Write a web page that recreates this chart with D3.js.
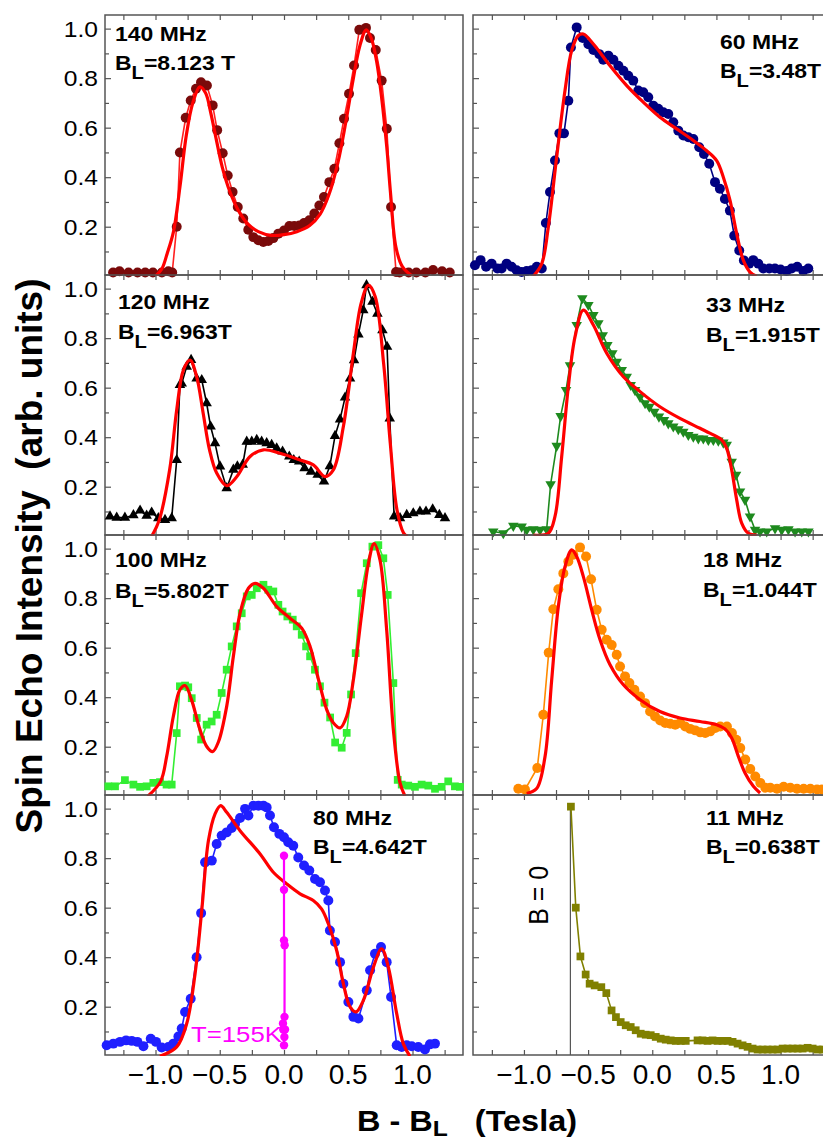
<!DOCTYPE html>
<html>
<head>
<meta charset="utf-8">
<script src="https://cdn.jsdelivr.net/npm/d3@7"></script>
<style>
  body { margin: 0; background: #fff; }
  text { font-family: "Liberation Sans", Arial, sans-serif; }
</style>
</head>
<body>
<div id="chart"></div>
<script>
// ---- data: [B - BL (T), intensity] ----
const d140 = [[-1.33,0.015],[-1.28,0.02],[-1.21,0.015],[-1.14,0.015],[-1.08,0.015],[-1.02,0.015],[-0.95,0.015],[-0.90,0.02],[-0.87,0.015],
  [-0.835,0.2],[-0.81,0.5],[-0.765,0.64],[-0.726,0.71],[-0.685,0.757],[-0.646,0.783],[-0.60,0.77],[-0.555,0.69],[-0.52,0.59],[-0.477,0.497],
  [-0.438,0.407],[-0.40,0.34],[-0.36,0.28],[-0.317,0.233],[-0.278,0.188],[-0.239,0.158],[-0.20,0.145],[-0.161,0.138],[-0.122,0.142],
  [-0.083,0.154],[-0.044,0.172],[0,0.185],[0.042,0.203],[0.08,0.203],[0.12,0.205],[0.156,0.215],[0.197,0.226],[0.236,0.253],[0.275,0.286],
  [0.311,0.32],[0.353,0.38],[0.392,0.434],[0.431,0.537],[0.467,0.636],[0.506,0.737],[0.545,0.851],[0.586,0.995],[0.638,1.003],[0.669,0.962],
  [0.714,0.914],[0.76,0.79],[0.80,0.596],[0.833,0.28],[0.872,0.017],[0.90,0.015],[0.97,0.015],[1.03,0.015],[1.10,0.015],[1.16,0.025],[1.23,0.02],[1.29,0.015]];
const fit140 = [[-1.0,0.0],[-0.95,0.03],[-0.91,0.09],[-0.86,0.18],[-0.81,0.36],[-0.76,0.57],[-0.71,0.70],[-0.655,0.765],[-0.61,0.74],[-0.57,0.66],
  [-0.53,0.56],[-0.48,0.44],[-0.42,0.34],[-0.36,0.27],[-0.28,0.21],[-0.2,0.18],[-0.1,0.165],[0,0.168],[0.1,0.18],[0.2,0.205],[0.28,0.25],
  [0.35,0.33],[0.42,0.46],[0.48,0.62],[0.54,0.8],[0.59,0.93],[0.64,0.995],[0.68,0.96],[0.72,0.87],[0.76,0.72],[0.80,0.52],[0.83,0.33],
  [0.87,0.12],[0.92,0.04],[1.0,0.0]];

const d120 = [[-1.354,0.08],[-1.302,0.075],[-1.238,0.075],[-1.172,0.085],[-1.12,0.104],[-1.069,0.083],[-1.03,0.096],[-0.978,0.073],[-0.926,0.066],
  [-0.874,0.073],[-0.835,0.308],[-0.81,0.611],[-0.796,0.617],[-0.757,0.685],[-0.723,0.712],[-0.68,0.637],[-0.64,0.631],[-0.602,0.537],
  [-0.571,0.443],[-0.537,0.376],[-0.498,0.282],[-0.446,0.194],[-0.394,0.269],[-0.363,0.282],[-0.321,0.289],[-0.29,0.382],[-0.251,0.382],
  [-0.212,0.389],[-0.174,0.382],[-0.135,0.376],[-0.096,0.369],[-0.057,0.355],[-0.011,0.342],[0.041,0.322],[0.076,0.308],[0.118,0.302],
  [0.16,0.275],[0.21,0.261],[0.262,0.248],[0.311,0.221],[0.357,0.283],[0.397,0.405],[0.436,0.472],[0.475,0.56],[0.514,0.637],[0.545,0.711],
  [0.579,0.815],[0.617,0.913],[0.642,1.014],[0.689,0.947],[0.727,0.899],[0.766,0.832],[0.802,0.765],[0.823,0.476],[0.857,0.08],[0.903,0.073],
  [0.955,0.086],[1.006,0.093],[1.058,0.1],[1.105,0.1],[1.157,0.109],[1.209,0.086],[1.253,0.073]];
const fit120 = [[-1.03,0.0],[-0.97,0.067],[-0.89,0.268],[-0.835,0.51],[-0.783,0.671],[-0.731,0.711],[-0.68,0.645],[-0.63,0.50],[-0.58,0.35],
  [-0.524,0.255],[-0.446,0.204],[-0.368,0.24],[-0.264,0.322],[-0.16,0.349],[-0.031,0.335],[0.125,0.308],[0.228,0.288],[0.319,0.241],
  [0.384,0.268],[0.462,0.443],[0.54,0.739],[0.60,0.94],[0.657,1.014],[0.71,0.967],[0.775,0.699],[0.827,0.376],[0.879,0.107],[0.931,0.013],[0.96,0.0]];

const d100 = [[-1.367,0.04],[-1.315,0.04],[-1.238,0.065],[-1.172,0.047],[-1.12,0.038],[-1.069,0.04],[-1.017,0.054],[-0.965,0.057],[-0.914,0.047],
  [-0.874,0.047],[-0.835,0.255],[-0.81,0.444],[-0.77,0.447],[-0.745,0.44],[-0.718,0.396],[-0.679,0.316],[-0.645,0.229],[-0.602,0.289],
  [-0.563,0.302],[-0.524,0.329],[-0.485,0.417],[-0.446,0.511],[-0.407,0.605],[-0.368,0.686],[-0.329,0.739],[-0.29,0.807],[-0.251,0.813],
  [-0.212,0.84],[-0.16,0.854],[-0.122,0.834],[-0.083,0.827],[-0.044,0.773],[-0.011,0.746],[0.026,0.726],[0.068,0.713],[0.099,0.686],
  [0.138,0.652],[0.172,0.605],[0.203,0.565],[0.241,0.511],[0.28,0.444],[0.315,0.378],[0.359,0.318],[0.398,0.217],[0.449,0.196],[0.488,0.256],
  [0.522,0.411],[0.558,0.578],[0.6,0.82],[0.644,0.941],[0.688,1.008],[0.734,1.014],[0.773,0.961],[0.807,0.813],[0.851,0.457],[0.885,0.066],
  [0.916,0.047],[0.967,0.043],[1.019,0.038],[1.071,0.047],[1.123,0.043],[1.175,0.03],[1.227,0.038],[1.278,0.06],[1.33,0.04],[1.369,0.038]];
const fit100 = [[-1.06,0.0],[-0.96,0.06],[-0.913,0.161],[-0.861,0.323],[-0.81,0.43],[-0.77,0.447],[-0.72,0.39],[-0.654,0.269],[-0.60,0.2],
  [-0.555,0.18],[-0.51,0.22],[-0.446,0.363],[-0.394,0.565],[-0.342,0.739],[-0.277,0.84],[-0.225,0.86],[-0.16,0.84],[-0.057,0.766],
  [0.047,0.719],[0.138,0.679],[0.203,0.605],[0.269,0.47],[0.333,0.349],[0.385,0.296],[0.437,0.276],[0.488,0.323],[0.54,0.47],[0.605,0.739],
  [0.657,0.94],[0.701,1.02],[0.747,0.954],[0.799,0.672],[0.851,0.269],[0.903,0.054],[0.942,0.0]];

const d80 = [[-1.38,0.044],[-1.328,0.051],[-1.276,0.058],[-1.229,0.064],[-1.185,0.062],[-1.141,0.058],[-1.094,0.04],[-1.037,0.071],[-0.996,0.058],
  [-0.952,0.035],[-0.9,0.037],[-0.861,0.051],[-0.822,0.08],[-0.796,0.112],[-0.77,0.179],[-0.726,0.232],[-0.68,0.4],[-0.645,0.578],[-0.614,0.783],
  [-0.562,0.79],[-0.524,0.857],[-0.485,0.891],[-0.446,0.904],[-0.407,0.922],[-0.381,0.938],[-0.342,0.962],[-0.303,0.999],[-0.277,0.972],
  [-0.238,1.012],[-0.199,1.012],[-0.16,1.012],[-0.135,1.005],[-0.109,0.972],[-0.078,0.925],[-0.036,0.898],[0.0,0.884],[0.033,0.864],
  [0.072,0.85],[0.111,0.803],[0.156,0.77],[0.197,0.75],[0.241,0.716],[0.28,0.703],[0.319,0.669],[0.345,0.629],[0.357,0.508],[0.397,0.461],
  [0.436,0.38],[0.462,0.293],[0.501,0.219],[0.54,0.159],[0.579,0.152],[0.644,0.266],[0.67,0.347],[0.708,0.414],[0.755,0.441],[0.799,0.38],
  [0.833,0.239],[0.877,0.044],[0.916,0.037],[0.955,0.044],[0.994,0.04],[1.045,0.037],[1.097,0.027],[1.136,0.048],[1.175,0.051]];
const fit80 = [[-0.965,0.0],[-0.835,0.038],[-0.757,0.132],[-0.692,0.333],[-0.64,0.589],[-0.588,0.871],[-0.537,0.978],[-0.493,1.012],[-0.446,0.985],
  [-0.342,0.911],[-0.186,0.817],[-0.083,0.743],[0.021,0.696],[0.125,0.656],[0.228,0.629],[0.292,0.595],[0.345,0.535],[0.41,0.427],
  [0.462,0.293],[0.514,0.199],[0.56,0.179],[0.618,0.226],[0.696,0.36],[0.76,0.434],[0.812,0.36],[0.877,0.172],[0.929,0.05],[0.98,0.0]];
const d155 = [[0,0.81],[0,0.672],[0,0.468],[0.005,0.448],[0.004,0.159],[-0.008,0.132],[0.008,0.108],[-0.006,0.108],[0.003,0.078],[0,0.044]];

const d60 = [[-1.382,0.044],[-1.338,0.065],[-1.295,0.038],[-1.252,0.051],[-1.207,0.031],[-1.174,0.031],[-1.135,0.051],[-1.096,0.038],
  [-1.057,0.024],[-1.018,0.017],[-0.979,0.021],[-0.94,0.024],[-0.9,0.038],[-0.861,0.031],[-0.829,0.215],[-0.797,0.34],[-0.758,0.467],
  [-0.724,0.577],[-0.688,0.577],[-0.654,0.709],[-0.634,0.924],[-0.589,1.005],[-0.542,0.962],[-0.498,0.937],[-0.459,0.914],[-0.413,0.897],
  [-0.382,0.874],[-0.342,0.891],[-0.303,0.874],[-0.264,0.85],[-0.225,0.83],[-0.187,0.81],[-0.148,0.79],[-0.109,0.75],[-0.07,0.743],
  [-0.031,0.723],[0.008,0.689],[0.047,0.676],[0.086,0.662],[0.125,0.655],[0.164,0.622],[0.203,0.588],[0.242,0.568],[0.281,0.561],
  [0.32,0.554],[0.366,0.521],[0.403,0.494],[0.444,0.454],[0.489,0.38],[0.527,0.353],[0.566,0.312],[0.605,0.265],[0.639,0.164],[0.678,0.104],
  [0.714,0.064],[0.756,0.051],[0.787,0.065],[0.826,0.051],[0.865,0.031],[0.912,0.031],[0.956,0.031],[1.0,0.027],[1.047,0.021],[1.086,0.031],
  [1.13,0.038],[1.177,0.021],[1.216,0.031]];
const fit60 = [[-0.927,0.0],[-0.861,0.051],[-0.81,0.199],[-0.745,0.481],[-0.68,0.75],[-0.628,0.911],[-0.576,0.972],[-0.537,0.978],
  [-0.459,0.938],[-0.329,0.85],[-0.199,0.77],[-0.07,0.703],[0.06,0.642],[0.19,0.595],[0.32,0.548],[0.424,0.507],[0.502,0.467],[0.554,0.4],
  [0.606,0.306],[0.658,0.172],[0.71,0.064],[0.762,0.017],[0.813,0.0]];

const d33 = [[-1.239,0.019],[-1.161,0.012],[-1.083,0.042],[-1.018,0.039],[-0.979,0.026],[-0.927,0.028],[-0.875,0.026],[-0.823,0.028],
  [-0.792,0.21],[-0.745,0.365],[-0.714,0.485],[-0.672,0.59],[-0.641,0.69],[-0.589,0.853],[-0.545,0.961],[-0.498,0.934],[-0.459,0.893],
  [-0.42,0.86],[-0.386,0.812],[-0.35,0.772],[-0.311,0.739],[-0.277,0.705],[-0.238,0.671],[-0.199,0.644],[-0.168,0.611],[-0.134,0.59],
  [-0.095,0.563],[-0.056,0.537],[-0.023,0.523],[0.016,0.503],[0.052,0.483],[0.091,0.469],[0.125,0.456],[0.164,0.443],[0.203,0.432],
  [0.242,0.422],[0.281,0.409],[0.32,0.402],[0.359,0.395],[0.398,0.395],[0.437,0.389],[0.476,0.389],[0.515,0.386],[0.554,0.378],[0.58,0.369],
  [0.619,0.301],[0.653,0.248],[0.684,0.181],[0.723,0.147],[0.762,0.08],[0.801,0.026],[0.84,0.019],[0.892,0.019],[0.957,0.032],[1.009,0.026],
  [1.061,0.028],[1.113,0.019],[1.165,0.019],[1.217,0.019]];
const fit33 = [[-0.927,0.005],[-0.81,0.012],[-0.758,0.08],[-0.706,0.321],[-0.654,0.604],[-0.602,0.805],[-0.537,0.913],[-0.459,0.853],
  [-0.355,0.739],[-0.225,0.644],[-0.095,0.584],[0.06,0.523],[0.216,0.476],[0.372,0.436],[0.476,0.409],[0.541,0.389],[0.58,0.355],
  [0.619,0.268],[0.658,0.147],[0.697,0.053],[0.749,0.012],[0.814,0.005]];

const d18 = [[-1.044,0.03],[-0.992,0.027],[-0.896,0.114],[-0.849,0.329],[-0.807,0.58],[-0.771,0.755],[-0.732,0.836],[-0.693,0.9],[-0.654,0.948],
  [-0.615,0.975],[-0.563,1.005],[-0.516,0.968],[-0.477,0.876],[-0.433,0.753],[-0.394,0.672],[-0.355,0.632],[-0.316,0.611],[-0.277,0.571],
  [-0.251,0.524],[-0.212,0.484],[-0.178,0.457],[-0.139,0.43],[-0.095,0.403],[-0.056,0.376],[-0.017,0.342],[0.022,0.322],[0.062,0.306],
  [0.101,0.296],[0.14,0.293],[0.179,0.289],[0.218,0.296],[0.257,0.282],[0.296,0.272],[0.335,0.266],[0.374,0.258],[0.413,0.255],[0.452,0.262],
  [0.491,0.276],[0.53,0.282],[0.582,0.282],[0.621,0.255],[0.655,0.228],[0.686,0.195],[0.725,0.148],[0.764,0.11],[0.803,0.08],[0.842,0.054],
  [0.881,0.034],[0.92,0.034],[0.972,0.03],[1.024,0.038],[1.076,0.034],[1.128,0.03],[1.18,0.03],[1.232,0.03],[1.284,0.027],[1.323,0.027]];
const fit18 = [[-0.979,0.011],[-0.901,0.031],[-0.836,0.159],[-0.784,0.468],[-0.732,0.766],[-0.68,0.927],[-0.628,0.995],[-0.589,0.968],
  [-0.537,0.887],[-0.472,0.753],[-0.407,0.632],[-0.329,0.531],[-0.225,0.45],[-0.095,0.39],[0.06,0.342],[0.216,0.316],[0.372,0.302],
  [0.502,0.289],[0.567,0.272],[0.619,0.235],[0.671,0.161],[0.723,0.094],[0.788,0.04],[0.84,0.013]];

const d11 = [[-0.634,1.008],[-0.596,0.6],[-0.56,0.403],[-0.519,0.33],[-0.488,0.293],[-0.449,0.286],[-0.397,0.279],[-0.358,0.255],
  [-0.317,0.185],[-0.283,0.158],[-0.246,0.138],[-0.207,0.125],[-0.168,0.118],[-0.129,0.105],[-0.09,0.091],[-0.051,0.087],[-0.012,0.085],
  [0.027,0.078],[0.066,0.071],[0.105,0.067],[0.144,0.064],[0.183,0.062],[0.222,0.062],[0.261,0.062],[0.353,0.064],[0.392,0.064],
  [0.431,0.062],[0.47,0.064],[0.509,0.062],[0.548,0.062],[0.587,0.062],[0.626,0.058],[0.665,0.051],[0.704,0.044],[0.743,0.038],
  [0.782,0.031],[0.821,0.027],[0.86,0.027],[0.899,0.027],[0.938,0.027],[0.977,0.027],[1.016,0.031],[1.055,0.031],[1.094,0.031],
  [1.133,0.031],[1.172,0.031],[1.211,0.034],[1.25,0.031],[1.289,0.027],[1.328,0.027]];
const bZero = -0.638;

const freqLabels = ["140 MHz", "120 MHz", "100 MHz", "80 MHz", "60 MHz", "33 MHz", "18 MHz", "11 MHz"];
const fieldLabels = ["=8.123 T", "=6.963T", "=5.802T", "=4.642T", "=3.48T", "=1.915T", "=1.044T", "=0.638T"];
const xTicks = [-1.0, -0.5, 0.0, 0.5, 1.0];
const yTicks = [0.2, 0.4, 0.6, 0.8, 1.0];

// ---- layout ----
const width = 823, height = 1142;
const colLeft = [105, 473], panelW = 358;
const rowTop = [15, 275, 535, 795], panelH = 260;
const sx = 1.12; // the figure is slightly stretched horizontally

const panels = [
  { col: 0, row: 0, data: d140, fit: fit140, mark: "#7a0a0a", line: "#ff2020", sym: "circle", lab: [10, 26, 55] },
  { col: 0, row: 1, data: d120, fit: fit120, mark: "#000", line: "#000", sym: "tri", lab: [13, 34, 64] },
  { col: 0, row: 2, data: d100, fit: fit100, mark: "#33ee33", line: "#33ee33", sym: "square", lab: [10, 32, 63] },
  { col: 0, row: 3, data: d80, fit: fit80, mark: "#1f1fff", line: "#1f1fff", sym: "circle", lab: [208, 30, 59] },
  { col: 1, row: 0, data: d60, fit: fit60, mark: "#000080", line: "#000080", sym: "circle", lab: [247, 34, 63] },
  { col: 1, row: 1, data: d33, fit: fit33, mark: "#1e8a1e", line: "#1e8a1e", sym: "tridown", lab: [233, 37, 67] },
  { col: 1, row: 2, data: d18, fit: fit18, mark: "#ff8a00", line: "#ff8a00", sym: "circle", lab: [230, 32, 62] },
  { col: 1, row: 3, data: d11, fit: null, mark: "#808000", line: "#808000", sym: "square", lab: [233, 30, 59] }
];

const svg = d3.select("#chart").append("svg").attr("width", width).attr("height", height);

function stretchText(parent, x, y, str, size, weight, anchor, fill) {
  return parent.append("g")
    .attr("transform", `translate(${x},${y}) scale(${sx},1)`)
    .append("text")
    .attr("text-anchor", anchor || "start")
    .attr("font-size", size)
    .attr("font-weight", weight || "normal")
    .attr("fill", fill || "#000")
    .text(str);
}

const symbols = {
  circle: d3.symbol().type(d3.symbolCircle).size(78)(),
  tri: d3.symbol().type(d3.symbolTriangle).size(48)(),
  tridown: d3.symbol().type(d3.symbolTriangle).size(48)(),
  square: d3.symbol().type(d3.symbolSquare).size(60)()
};

panels.forEach((p, i) => {
  const left = colLeft[p.col], top = rowTop[p.row];
  const x = d3.scaleLinear()
    .domain(p.col === 0 ? [-1.393, 1.393] : [-1.397, 1.393])
    .range([left, left + panelW]);
  const y = d3.scaleLinear().domain([0.005, 1.055]).range([top + panelH, top]);

  const g = svg.append("g");
  const clipId = "clip" + i;
  g.append("clipPath").attr("id", clipId)
    .append("rect").attr("x", left).attr("y", top).attr("width", panelW).attr("height", panelH + 1);

  // frame
  g.append("rect").attr("x", left).attr("y", top).attr("width", panelW).attr("height", panelH)
    .attr("fill", "none").attr("stroke", "#555").attr("stroke-width", 1.5);

  // inward ticks
  const axisStyle = (sel) => { sel.select(".domain").remove(); sel.selectAll("line").attr("stroke", "#555").attr("stroke-width", 1.2); };
  g.append("g").attr("transform", `translate(${left},0)`)
    .call(d3.axisLeft(y).tickValues(yTicks).tickSize(-6).tickFormat("")).call(axisStyle);
  g.append("g").attr("transform", `translate(${left},0)`)
    .call(d3.axisLeft(y).tickValues([0.1, 0.3, 0.5, 0.7, 0.9]).tickSize(-4).tickFormat("")).call(axisStyle);
  const xAll = d3.range(-1.25, 1.3, 0.25);
  g.append("g").attr("transform", `translate(0,${top + panelH})`)
    .call(d3.axisBottom(x).tickValues(xAll).tickSize(-5).tickFormat("")).call(axisStyle);
  g.append("g").attr("transform", `translate(0,${top})`)
    .call(d3.axisTop(x).tickValues(xAll).tickSize(-5).tickFormat("")).call(axisStyle);

  // y tick labels on the left column
  if (p.col === 0) {
    yTicks.forEach((t) => {
      stretchText(svg, 98, y(t) + 8, d3.format(".1f")(t), 22, "normal", "end");
    });
  }
  // x tick labels on the bottom row
  if (p.row === 3) {
    xTicks.forEach((t) => {
      svg.append("text").attr("x", x(t)).attr("y", top + panelH + 29)
        .attr("text-anchor", "middle").attr("font-size", 28)
        .text(d3.format(".1f")(t).replace("-", "-"));
    });
  }

  // B = 0 marker in the 11 MHz panel
  if (p.col === 1 && p.row === 3) {
    g.append("line").attr("x1", x(bZero)).attr("x2", x(bZero))
      .attr("y1", y(1.0)).attr("y2", top + panelH)
      .attr("stroke", "#555").attr("stroke-width", 1.2);
    svg.append("g").attr("transform", `translate(${x(bZero) - 22},${y(0.65)}) rotate(-90) scale(1,${sx})`)
      .append("text").attr("text-anchor", "middle").attr("font-size", 25).text("B = 0");
  }

  const line = d3.line().x((d) => x(d[0])).y((d) => y(d[1]));

  // data line and markers
  g.append("path").datum(p.data).attr("d", line)
    .attr("fill", "none").attr("stroke", p.line).attr("stroke-width", 1.6);

  g.selectAll(".m" + i).data(p.data).enter().append("path")
    .attr("d", symbols[p.sym])
    .attr("transform", (d) => `translate(${x(d[0])},${y(d[1])})${p.sym === "tridown" ? " rotate(180)" : ""}`)
    .attr("fill", p.mark);

  // fit
  if (p.fit) {
    g.append("path").datum(p.fit)
      .attr("clip-path", `url(#${clipId})`)
      .attr("d", line.curve(d3.curveCatmullRom.alpha(0.5)))
      .attr("fill", "none").attr("stroke", "#ff0000").attr("stroke-width", 3.2);
  }

  // 155 K trace in the 80 MHz panel
  if (p.col === 0 && p.row === 3) {
    const l2 = d3.line().x((d) => x(d[0])).y((d) => y(d[1]));
    g.append("path").datum(d155).attr("d", l2)
      .attr("fill", "none").attr("stroke", "#ff00ff").attr("stroke-width", 2.2);
    g.selectAll(".mag").data(d155).enter().append("circle")
      .attr("cx", (d) => x(d[0])).attr("cy", (d) => y(d[1])).attr("r", 4.2).attr("fill", "#ff00ff");
    stretchText(svg, 191, top + 247, "T=155K", 23, "normal", "start", "#ff00ff");
  }

  // panel labels
  const lx = left + p.lab[0];
  stretchText(svg, lx, top + p.lab[1], freqLabels[i], 20.5, "bold");
  const t = stretchText(svg, lx, top + p.lab[2], "B", 20.5, "bold");
  t.append("tspan").attr("dy", 9).attr("font-size", 18).text("L");
  t.append("tspan").attr("dy", -9).text(fieldLabels[i]);
});

// axis titles
svg.append("text")
  .attr("transform", "translate(42,556) rotate(-90)")
  .attr("text-anchor", "middle").attr("font-size", 37).attr("font-weight", "bold")
  .text("Spin Echo Intensity\u00a0\u00a0(arb. units)");

const xt = stretchText(svg, 357, 1131, "B - B", 29, "bold");
xt.append("tspan").attr("dy", 5).attr("font-size", 22).text("L");
xt.append("tspan").attr("dy", -5).text("\u00a0\u00a0\u00a0(Tesla)");
</script>
</body>
</html>
